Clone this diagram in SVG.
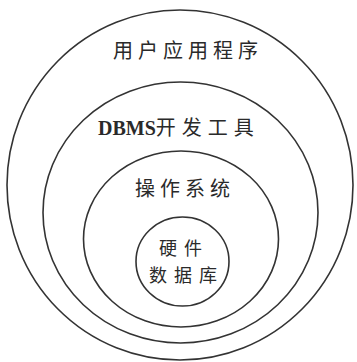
<svg xmlns="http://www.w3.org/2000/svg" width="357" height="362" viewBox="0 0 357 362">
<style>
.ring{fill:none;stroke:#333;stroke-width:1.6}
.t{font-family:"Noto Sans CJK SC","Noto Sans",sans-serif;font-size:20px;fill:#2a2a2a;letter-spacing:5px}
.i{font-family:"Noto Sans CJK SC","Noto Sans",sans-serif;font-size:18px;fill:#2a2a2a;letter-spacing:7px}
.s{font-family:"Liberation Serif",serif;font-weight:bold;font-size:20px;fill:#2a2a2a}
</style>
<rect width="357" height="362" fill="#fff"/>
<g id="app">
<ellipse class="ring" cx="180" cy="185" rx="173" ry="175"/>
<text class="t" x="113" y="58">用户应用程序</text>
</g>
<g id="dbms">
<ellipse class="ring" cx="180.5" cy="212.5" rx="137.5" ry="130.5"/>
<text x="98" y="135"><tspan class="s">DBMS</tspan><tspan class="t" style="letter-spacing:6px">开发工具</tspan></text>
</g>
<g id="os">
<ellipse class="ring" cx="181" cy="239" rx="97.5" ry="88"/>
<text class="t" x="135" y="196">操作系统</text>
</g>
<g id="hw">
<ellipse class="ring" cx="182.5" cy="261.5" rx="46.5" ry="44.5"/>
<text class="i" x="159" y="255">硬件</text>
<text class="i" x="149" y="281.5">数据库</text>
</g>
<g id="connectors"/>
</svg>
